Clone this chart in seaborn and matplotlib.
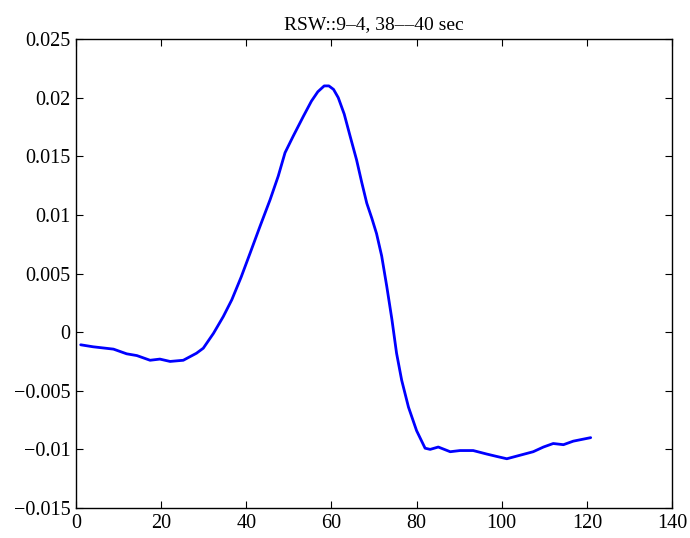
import matplotlib
matplotlib.use("Agg")
import matplotlib.pyplot as plt
import seaborn as sns
import pandas as pd

# Data
x_vals = [1.1, 4.0, 8.8, 11.9, 14.3, 17.4, 19.7, 22.1, 25.2, 28.3, 29.9, 32.3, 34.6, 36.6,
          38.8, 40.9, 43.2, 45.6, 47.5, 49.1, 51.0, 53.4, 55.3, 56.8, 58.3, 59.4, 60.5,
          61.6, 63.0, 64.4, 65.9, 67.1, 68.3, 69.5, 70.6, 71.8, 73.0, 74.2, 75.3, 76.5,
          78.1, 80.0, 82.0, 83.2, 85.1, 87.9, 90.2, 93.3, 96.5, 98.8, 101.2, 104.3,
          107.4, 109.8, 112.1, 114.5, 116.8, 120.9]
y_vals = [-0.00108, -0.00125, -0.00145, -0.00185, -0.0020, -0.0024, -0.0023, -0.0025,
          -0.0024, -0.0018, -0.00137, -0.0001, 0.00133, 0.00276,
          0.0047, 0.00674, 0.0090, 0.0113, 0.0133, 0.0153, 0.0167, 0.0184, 0.0197,
          0.0205, 0.0210, 0.0210, 0.0207, 0.0200, 0.0186, 0.0167, 0.0147, 0.0128,
          0.0110, 0.0097, 0.0084, 0.0065, 0.0039, 0.0011, -0.0018, -0.0041, -0.0064,
          -0.0084, -0.0099, -0.0100, -0.0098, -0.0102, -0.0101, -0.0101, -0.0104,
          -0.0106, -0.0108, -0.0105, -0.0102, -0.0098, -0.0095, -0.0096, -0.0093,
          -0.0090]

x_ticks = [0, 20, 40, 60, 80, 100, 120, 140]
y_ticks = [-0.015, -0.01, -0.005, 0, 0.005, 0.01, 0.015, 0.02, 0.025]
y_tick_labels = ["\u22120.015", "\u22120.01", "\u22120.005", "0", "0.005", "0.01",
                 "0.015", "0.02", "0.025"]
title_text = "RSW::9\u20134, 38\u2013\u201340 sec"

sns.set_style("ticks")
plt.rcParams['font.family'] = ['Liberation Serif', 'DejaVu Serif']
plt.rcParams['axes.unicode_minus'] = True
plt.rcParams['text.color'] = 'black'

fig = plt.figure(figsize=(6.9, 5.38), dpi=100)
ax = fig.add_axes([76/690, 1 - 508/538, (672-76)/690, (508-39)/538])

df = pd.DataFrame({"x": x_vals, "y": y_vals})
sns.lineplot(data=df, x="x", y="y", ax=ax, color=(0, 0, 1), linewidth=2.0, sort=False)

ax.set_xlim(0, 140)
ax.set_ylim(-0.015, 0.025)
ax.set_xticks(x_ticks)
ax.set_xticklabels([str(t) for t in x_ticks])
ax.set_yticks(y_ticks)
ax.set_yticklabels(y_tick_labels)
ax.set_xlabel("")
ax.set_ylabel("")
ax.tick_params(direction="in", length=5, width=0.8, top=True, right=True,
               labelsize=14.5, colors="black", pad=4)
for s in ax.spines.values():
    s.set_visible(True)
    s.set_color("black")
    s.set_linewidth(1.0)
ax.set_title(title_text, fontsize=14, pad=7, color="black")

fig.savefig("out.png", dpi=100)
